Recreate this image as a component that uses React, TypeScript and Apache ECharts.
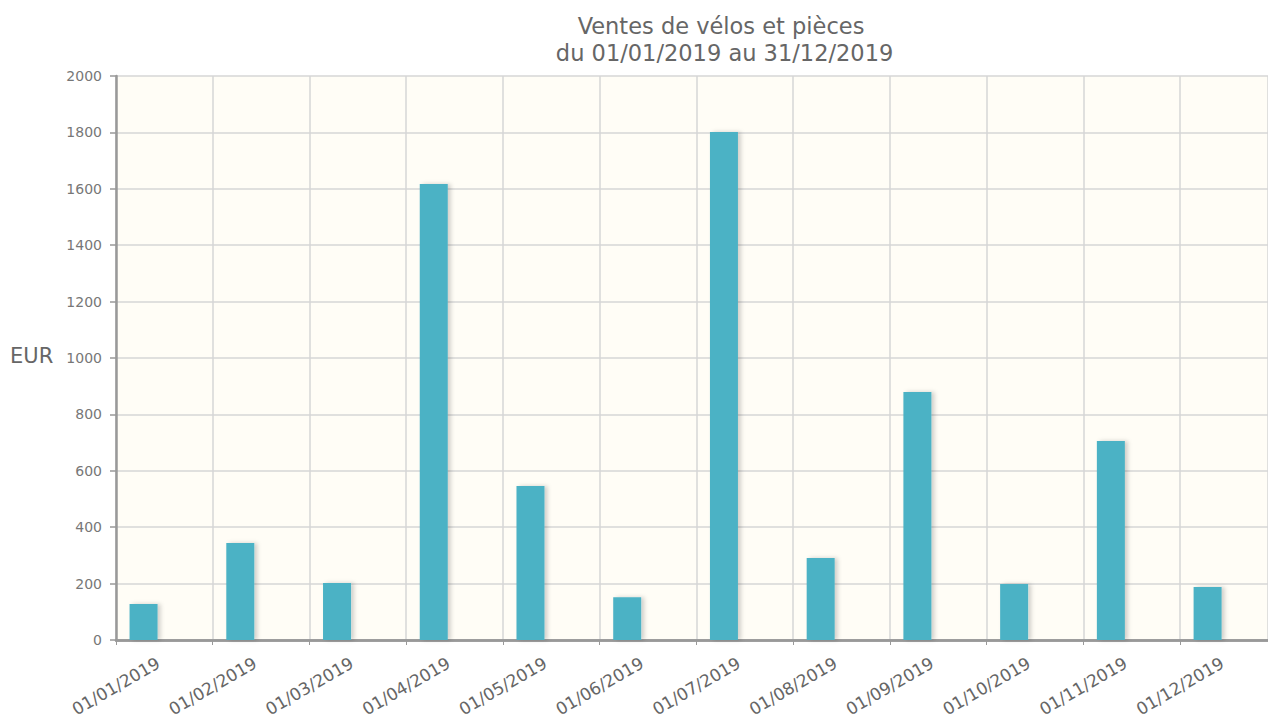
import React, { useEffect, useRef } from "react";
import * as echarts from "echarts";

const titleLines = ["Ventes de vélos et pièces", " du 01/01/2019 au 31/12/2019"];
const yAxisName = "EUR";
const months = [
  "01/01/2019", "01/02/2019", "01/03/2019", "01/04/2019", "01/05/2019", "01/06/2019",
  "01/07/2019", "01/08/2019", "01/09/2019", "01/10/2019", "01/11/2019", "01/12/2019",
];
const sales = [128, 344, 202, 1617, 546, 152, 1801, 291, 879, 199, 706, 188];
// position of each bar inside its month (fraction of a month after the tick)
const barOffset = 0.285;

export default function App() {
  const ref = useRef<HTMLDivElement>(null);
  useEffect(() => {
    if (!ref.current) return;
    const chart = echarts.init(ref.current, undefined, { renderer: "svg" });
    const font = "DejaVu Sans";
    const left = 116;
    const top = 76;
    const bottom = 80;
    const monthPx = 96.73;
    const xMax = (1268 - left) / monthPx;
    chart.setOption({
      animation: false,
      backgroundColor: "#ffffff",
      title: {
        text: titleLines.join("\n"),
        left: 716,
        top: 7,
        textAlign: "center",
        textStyle: {
          fontFamily: font,
          fontSize: 22.5,
          fontWeight: "normal",
          color: "#666666",
          lineHeight: 27,
        },
      },
      graphic: [
        {
          type: "text",
          left: 10,
          top: 345,
          style: { text: yAxisName, fontFamily: font, fontSize: 21, fill: "#666666" },
        },
      ],
      grid: {
        left,
        top,
        right: 0,
        bottom,
        show: true,
        backgroundColor: "#fffdf6",
        borderWidth: 0,
      },
      xAxis: [
        {
          type: "value",
          min: 0,
          max: xMax,
          interval: 1,
          axisLine: { show: true, onZero: false, lineStyle: { color: "#999999", width: 2.5 } },
          axisTick: { show: true, length: 5, lineStyle: { color: "#999999", width: 1 } },
          splitLine: { show: true, lineStyle: { color: "#d6d6d6", width: 1.5 } },
          axisLabel: {
            rotate: 30,
            align: "center",
            verticalAlign: "middle",
            margin: 46,
            fontFamily: font,
            fontSize: 17,
            color: "#666666",
            showMaxLabel: false,
            formatter: (v: number) => months[Math.round(v)] ?? "",
          },
        },
        {
          type: "value",
          position: "top",
          min: 0,
          max: xMax,
          axisLine: { show: true, lineStyle: { color: "#999999", width: 2.5 } },
          axisTick: { show: false },
          axisLabel: { show: false },
          splitLine: { show: false },
        },
      ],
      yAxis: {
        type: "value",
        min: 0,
        max: 2000,
        interval: 200,
        axisLine: { show: true, onZero: false, lineStyle: { color: "#999999", width: 2.5 } },
        axisTick: { show: true, length: 6, lineStyle: { color: "#999999", width: 1.5 } },
        splitLine: { show: true, lineStyle: { color: "#d6d6d6", width: 1.5 } },
        axisLabel: {
          margin: 14,
          fontFamily: font,
          fontSize: 14,
          color: "#777777",
          formatter: (v: number) => String(v),
        },
      },
      series: [
        {
          type: "bar",
          xAxisIndex: 0,
          barWidth: 28,
          data: sales.map((v, i) => [i + barOffset, v]),
          itemStyle: {
            color: "#4bb2c5",
            shadowColor: "rgba(0,0,0,0.18)",
            shadowBlur: 4,
            shadowOffsetX: 3,
            shadowOffsetY: 0,
          },
        },
      ],
    });
    return () => chart.dispose();
  }, []);
  return (
    <div
      ref={ref}
      style={{ position: "fixed", left: 0, top: 0, width: 1268, height: 720 }}
    />
  );
}
